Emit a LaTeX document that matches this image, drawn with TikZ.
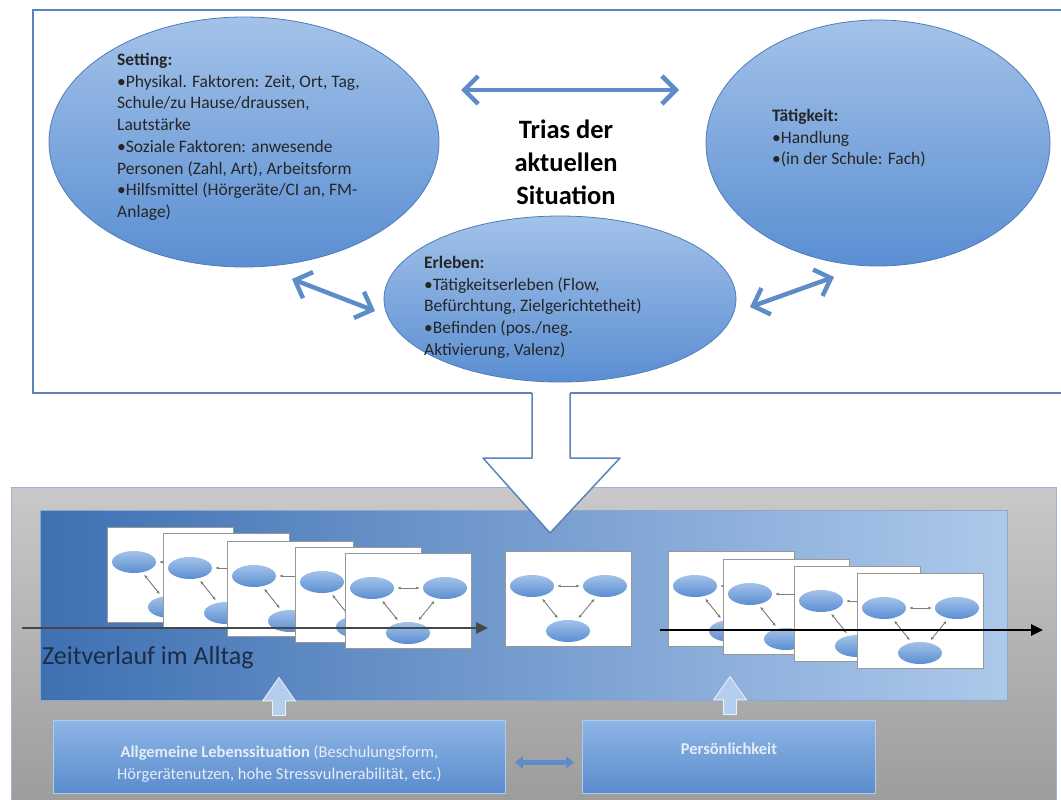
\documentclass[tikz,border=0pt]{standalone}
\usepackage{fontspec}
\setmainfont{Carlito}
\usetikzlibrary{arrows.meta,positioning,calc,shapes.geometric,shapes.arrows}
\definecolor{trFrame}{HTML}{5B84B8}
\definecolor{trArrow}{HTML}{5D8CC8}
\definecolor{trEllTop}{HTML}{A3C2E9}
\definecolor{trEllBot}{HTML}{5A8ED2}
\definecolor{trEllLine}{HTML}{4E7DB8}
\definecolor{trGrayTop}{HTML}{C9C9C9}
\definecolor{trGrayBot}{HTML}{9C9C9C}
\definecolor{trBandL}{HTML}{3E70B3}
\definecolor{trBandR}{HTML}{ADC9EB}
\definecolor{trBoxTop}{HTML}{8DB5E5}
\definecolor{trBoxBot}{HTML}{5A8CCD}
\definecolor{trBoxText}{HTML}{E6EDF7}
\definecolor{trText}{HTML}{1C2C46}
\definecolor{trMini}{HTML}{7E7E7E}
\newcommand{\minicard}[3]{%
  \begin{scope}[shift={(#2,#3)}]
    \node[card] (#1) at (0,0) {};
    \node[mell] (#1l) at (27,35) {};
    \node[mell] (#1r) at (100,35) {};
    \node[mell] (#1b) at (63,80) {};
    \foreach \a/\b in {#1l/#1r,#1l/#1b,#1r/#1b}{\draw[marr] (\a) -- (\b);}
  \end{scope}}

\begin{document}
\begin{tikzpicture}[x=1pt, y=-1pt,
  blob/.style={ellipse, draw=trEllLine, line width=0.8, top color=trEllTop, bottom color=trEllBot, inner sep=0},
  etext/.style={font=\fontsize{17.5}{21.7}\selectfont, align=left, inner sep=0, anchor=north west, text=black!85},
  bigarr/.style={{Straight Barb[length=14pt,width=28pt]}-{Straight Barb[length=14pt,width=28pt]}, line width=4.5, trArrow},
  card/.style={draw=trMini!80, fill=white, line width=0.8, minimum width=126, minimum height=95, anchor=north west, inner sep=0},
  mell/.style={ellipse, top color=trEllTop, bottom color=trEllBot, minimum width=44, minimum height=22, inner sep=0},
  marr/.style={{Latex[length=3.5pt,width=3pt]}-{Latex[length=3.5pt,width=3pt]}, line width=0.9, trMini, shorten <=3pt, shorten >=3pt},
  tline/.style={-{Triangle[length=12pt,width=11pt]}, line width=2.8},
  lbox/.style={draw=trBoxTop!70!white, line width=0.8, top color=trBoxTop, bottom color=trBoxBot, minimum height=73, anchor=north west, inner sep=0},
  boxtxt/.style={font=\fontsize{16.5}{22}\selectfont, text=trBoxText, align=center},
  uparr/.style={single arrow, shape border rotate=90, fill=trBandR!90!white, draw=white!75!trBandR, line width=0.8, minimum height=38, inner sep=6, single arrow head extend=10, single arrow tip angle=70},
  smarr/.style={{Triangle[length=8pt,width=12pt]}-{Triangle[length=8pt,width=12pt]}, line width=4.2, trArrow, shorten <=9pt, shorten >=8pt}]
\useasboundingbox (0,0) rectangle (1061,800);

% -- Trias der aktuellen Situation
\draw[trFrame, line width=2] (33,10) rectangle (1080,393);
\node[blob, minimum width=390, minimum height=250] (setting) at (244,142) {};
\node[blob, minimum width=344, minimum height=246] (taet) at (878,143) {};
\node[blob, minimum width=352, minimum height=166] (erleben) at (560,299) {};
\node[etext] (settingtxt) at (117,53) {\textbf{Setting:}\\•Physikal. Faktoren: Zeit, Ort, Tag,\\Schule/zu Hause/draussen,\\Lautstärke\\•Soziale Faktoren: anwesende\\Personen (Zahl, Art), Arbeitsform\\•Hilfsmittel (Hörgeräte/CI an, FM-\\Anlage)};
\node[etext] (taettxt) at (772,109) {\textbf{Tätigkeit:}\\•Handlung\\•(in der Schule: Fach)};
\node[etext] (erlebentxt) at (424,256) {\textbf{Erleben:}\\•Tätigkeitserleben (Flow,\\Befürchtung, Zielgerichtetheit)\\•Befinden (pos./neg.\\Aktivierung, Valenz)};
\node[font=\fontsize{26.5}{33}\selectfont\bfseries, align=center] (trias) at (566,162) {Trias der\\aktuellen\\Situation};
\coordinate (st) at (461,90); \coordinate (ta) at (679,90);
\coordinate (se) at (292,279); \coordinate (es) at (375,311);
\coordinate (et) at (750,307); \coordinate (te) at (834,277);
\foreach \a/\b in {st/ta,se/es,et/te}{\draw[bigarr] (\a) -- (\b);}

% -- Zeitverlauf im Alltag
\draw[draw=trFrame!60, top color=trGrayTop, bottom color=trGrayBot] (11,487) rectangle (1056,805);
\draw[draw=trFrame!70, left color=trBandL, right color=trBandR] (40,510) rectangle (1007,700);
\foreach \n/\x/\y in {L1/107/527,L2/163/533,L3/227/541,L4/295/547,L5/345/553,M/505/551,R1/668/551,R2/723/559,R3/794/566,R4/857/573}{\minicard{\n}{\x}{\y}}
\coordinate (t0) at (22,628); \coordinate (t1) at (488,628);
\draw[tline, draw=black!72, fill=black!72] (t0) -- (t1);
\coordinate (t2) at (660,630); \coordinate (t3) at (1043,630);
\draw[tline] (t2) -- (t3);
\node[font=\fontsize{26}{30}\selectfont, text=trText, anchor=base west, inner sep=0] (zeit) at (42,664) {Zeitverlauf im Alltag};

% -- Pfeil von der Trias in den Alltag
\fill[white] (532,388) -- (532,458) -- (483,458) -- (550,533) -- (620,458) -- (570,458) -- (570,388) -- cycle;
\draw[trFrame, line width=1.5, line join=round] (532,393) -- (532,458) -- (483,458) -- (550,533) -- (620,458) -- (570,458) -- (570,393);

% -- Rahmenbedingungen
\node[lbox, minimum width=452] (allg) at (53,720) {};
\node[lbox, minimum width=293] (pers) at (582,720) {};
\node[boxtxt] (allgtxt) at ($(allg.center)+(0,7)$) {\textbf{Allgemeine Lebenssituation} (Beschulungsform,\\Hörgerätenutzen, hohe Stressvulnerabilität, etc.)};
\node[boxtxt] (perstxt) at ($(pers.center)+(0,-8)$) {\textbf{Persönlichkeit}};
\node[uparr] (up1) at (279,701) {};
\node[uparr] (up2) at (730,700) {};
\draw[smarr] ([yshift=-5.5pt]allg.east) -- ([yshift=-5.5pt]pers.west);
\end{tikzpicture}
\end{document}
